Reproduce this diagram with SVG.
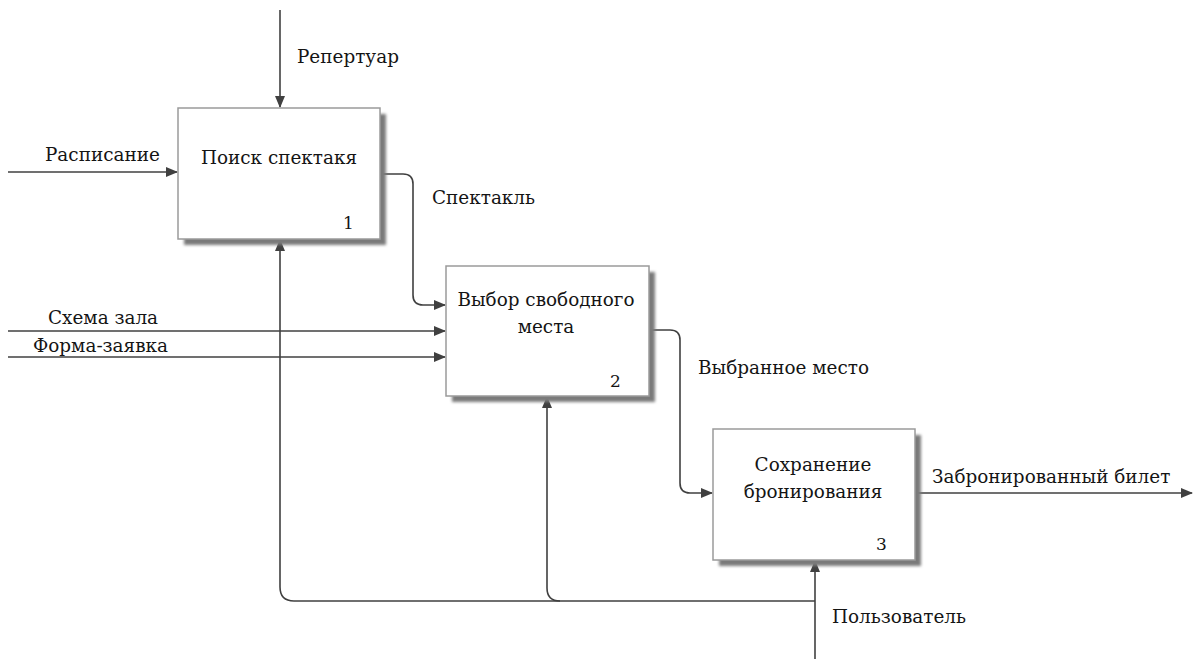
<svg xmlns="http://www.w3.org/2000/svg" width="1194" height="659" viewBox="0 0 1194 659">
  <style>
    .box { fill: #ffffff; stroke: #9a9a9a; stroke-width: 1.5; }
    .shadow { fill: #7a7a7a; filter: url(#soft); }
    .link { fill: none; stroke: #404040; stroke-width: 1.6; }
    .lbl { font-family: "DejaVu Serif", "Liberation Serif", serif; font-size: 18.4px; fill: #141414; }
    .num { font-family: "DejaVu Serif", "Liberation Serif", serif; font-size: 17px; fill: #141414; }
    .mid { text-anchor: middle; }
  </style>
  <defs>
    <filter id="soft" x="-10%" y="-10%" width="130%" height="130%">
      <feGaussianBlur stdDeviation="1.5"/>
    </filter>
    <marker id="arrow" markerWidth="12" markerHeight="10" refX="11" refY="5" orient="auto" markerUnits="userSpaceOnUse">
      <path d="M0,0 L12,5 L0,10 z" fill="#404040"/>
    </marker>
  </defs>

  <!-- arrows between activities -->
  <g id="connectors">
    <!-- controls / inputs -->
    <path class="link" d="M280,10 V107" marker-end="url(#arrow)"/>
    <path class="link" d="M8,172 H177" marker-end="url(#arrow)"/>
    <path class="link" d="M8,331 H445" marker-end="url(#arrow)"/>
    <path class="link" d="M8,357 H445" marker-end="url(#arrow)"/>
    <!-- activity 1 to activity 2 -->
    <path class="link" d="M380,174 H403 Q413,174 413,184 V295 Q413,305 423,305 H445" marker-end="url(#arrow)"/>
    <!-- activity 2 to activity 3 -->
    <path class="link" d="M649,330 H670 Q680,330 680,340 V483 Q680,493 690,493 H712" marker-end="url(#arrow)"/>
    <!-- output -->
    <path class="link" d="M915,493 H1192" marker-end="url(#arrow)"/>
    <!-- mechanism -->
    <path class="link" d="M815,659 V561" marker-end="url(#arrow)"/>
    <path class="link" d="M815,601 H294 Q280,601 280,587 V240" marker-end="url(#arrow)"/>
    <path class="link" d="M560,601 Q547,601 547,588 V397" marker-end="url(#arrow)"/>
  </g>

  <g id="node-1">
    <rect class="shadow" x="184" y="114" width="202" height="131"/>
    <rect class="box" x="178" y="108" width="202" height="131"/>
    <text class="lbl mid" x="279" y="164">Поиск спектакя</text>
    <text class="num" x="343" y="229">1</text>
  </g>

  <g id="node-2">
    <rect class="shadow" x="452" y="272" width="203" height="130"/>
    <rect class="box" x="446" y="266" width="203" height="130"/>
    <text class="lbl mid" x="546" y="306">Выбор свободного</text>
    <text class="lbl mid" x="546" y="333">места</text>
    <text class="num" x="610" y="387">2</text>
  </g>

  <g id="node-3">
    <rect class="shadow" x="719" y="435" width="202" height="131"/>
    <rect class="box" x="713" y="429" width="202" height="131"/>
    <text class="lbl mid" x="813" y="471">Сохранение</text>
    <text class="lbl mid" x="813" y="498">бронирования</text>
    <text class="num" x="876" y="550">3</text>
  </g>

  <!-- arrow labels -->
  <g id="labels">
    <text class="lbl" x="297" y="63">Репертуар</text>
    <text class="lbl" x="45" y="161">Расписание</text>
    <text class="lbl" x="432" y="204">Спектакль</text>
    <text class="lbl" x="48" y="324">Схема зала</text>
    <text class="lbl" x="33" y="352">Форма-заявка</text>
    <text class="lbl" x="698" y="374">Выбранное место</text>
    <text class="lbl" x="932" y="483">Забронированный билет</text>
    <text class="lbl" x="832" y="623">Пользователь</text>
  </g>
</svg>
